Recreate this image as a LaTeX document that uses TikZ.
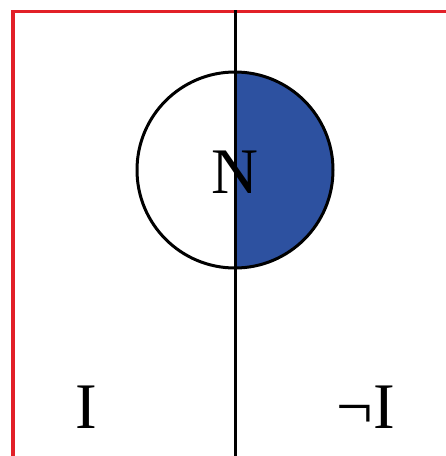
\documentclass[tikz,border=0pt]{standalone}
\usepackage{fontspec}
\setmainfont{Liberation Serif}
\definecolor{framered}{RGB}{226,32,40}
\definecolor{halfblue}{RGB}{45,81,160}
\tikzset{
  frameline/.style={draw=framered, line width=3.2pt},
  axisline/.style={draw=black, line width=3pt},
  bigletter/.style={font=\fontsize{65}{65}\selectfont, inner sep=0pt}
}

\begin{document}
\begin{tikzpicture}[x=1pt, y=-1pt]
\useasboundingbox (0,0) rectangle (446,456);

% frame
\draw[frameline] (13,460) |- (450,11.5);

% circle with right half filled
\coordinate (ctr) at (235,170);
\fill[halfblue] (235,72) arc[start angle=-90, end angle=90, radius=98] -- cycle;
\node[circle, draw=black, line width=3pt, minimum size=196pt, inner sep=0pt]
  (disc) at (ctr) {};

% vertical split
\coordinate (top) at (235,10);
\coordinate (bot) at (235,460);
\draw[axisline] (top) -- (bot);

% labels
\node[bigletter] (nlab) at (235,172) {N};
\node[bigletter] (ilab) at (86,407) {I};
\node[bigletter] (notilab) at (366,407) {¬I};
\end{tikzpicture}
\end{document}
